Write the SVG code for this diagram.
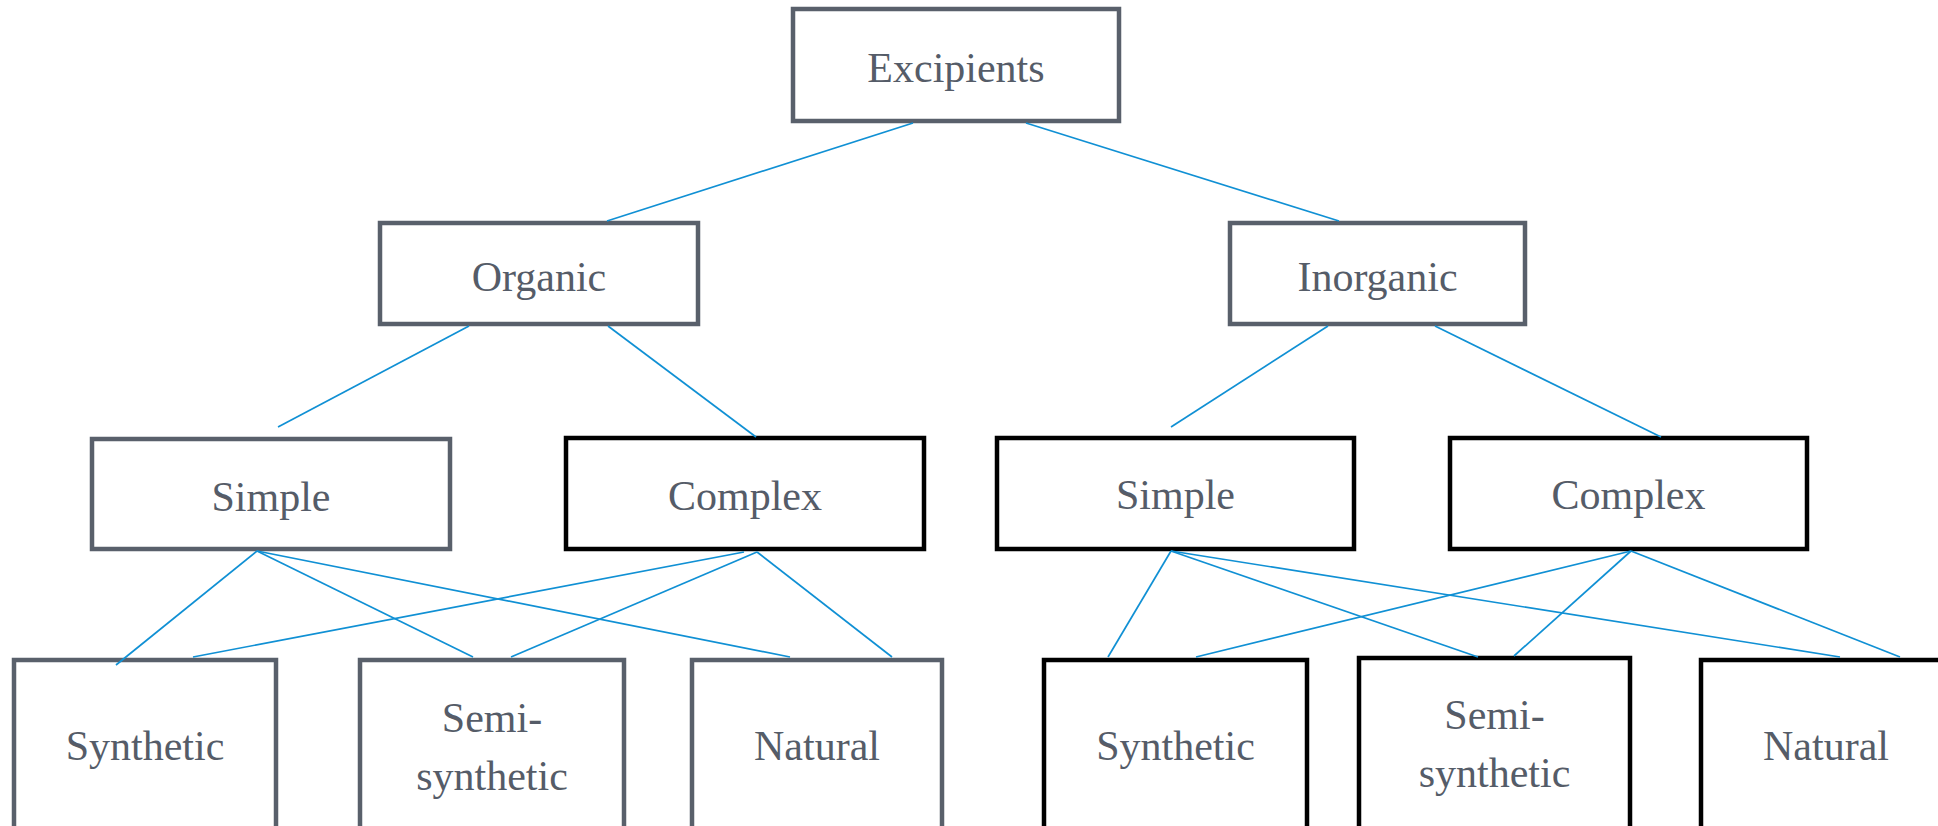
<svg xmlns="http://www.w3.org/2000/svg" width="1938" height="826" viewBox="0 0 1938 826">
<style>
.g{fill:#fff;stroke:#59606b;stroke-width:4.5}
.k{fill:#fff;stroke:#000;stroke-width:4.5}
text{font-family:"Liberation Serif","Times New Roman",serif;font-size:42px;fill:#555c68;text-anchor:middle}
.c line{stroke:#1090d4;stroke-width:1.7}
</style>
<rect width="1938" height="826" fill="#fff"/>
<g id="n-excipients"><rect class="g" x="793" y="9" width="326" height="112"/><text x="956" y="82">Excipients</text></g>
<g id="n-organic"><rect class="g" x="380" y="223" width="318" height="101"/><text x="539" y="291">Organic</text></g>
<g id="n-inorganic"><rect class="g" x="1230" y="223" width="295" height="101"/><text x="1377.5" y="291">Inorganic</text></g>
<g id="n-simple-l"><rect class="g" x="92" y="439" width="358" height="110"/><text x="271" y="511">Simple</text></g>
<g id="n-complex-l"><rect class="k" x="566" y="438" width="358" height="111"/><text x="745" y="510">Complex</text></g>
<g id="n-simple-r"><rect class="k" x="997" y="438" width="357" height="111"/><text x="1175.5" y="509">Simple</text></g>
<g id="n-complex-r"><rect class="k" x="1450" y="438" width="357" height="111"/><text x="1628.5" y="509">Complex</text></g>
<g id="n-synthetic-l"><rect class="g" x="14" y="660" width="262" height="200"/><text x="145" y="760">Synthetic</text></g>
<g id="n-semi-l"><rect class="g" x="360" y="660" width="264" height="200"/><text x="492" y="732">Semi-</text><text x="492" y="790">synthetic</text></g>
<g id="n-natural-l"><rect class="g" x="692" y="660" width="250" height="200"/><text x="817" y="760">Natural</text></g>
<g id="n-synthetic-r"><rect class="k" x="1044" y="660" width="263" height="200"/><text x="1175.5" y="760">Synthetic</text></g>
<g id="n-semi-r"><rect class="k" x="1359" y="658" width="271" height="200"/><text x="1494.5" y="729">Semi-</text><text x="1494.5" y="787">synthetic</text></g>
<g id="n-natural-r"><rect class="k" x="1701" y="660" width="251" height="200"/><text x="1826" y="760">Natural</text></g>
<g id="connectors" class="c">
<line x1="913" y1="123" x2="607" y2="221"/>
<line x1="1026" y1="123" x2="1339" y2="221"/>
<line x1="469" y1="326" x2="278" y2="427"/>
<line x1="608" y1="326" x2="756" y2="437"/>
<line x1="1328" y1="326" x2="1171" y2="427"/>
<line x1="1435" y1="326" x2="1661" y2="437"/>
<line x1="257" y1="551" x2="116" y2="665"/>
<line x1="257" y1="551" x2="473" y2="657"/>
<line x1="257" y1="551" x2="790" y2="657"/>
<line x1="744" y1="552" x2="193" y2="657"/>
<line x1="757" y1="552" x2="511" y2="657"/>
<line x1="757" y1="552" x2="892" y2="657"/>
<line x1="1171" y1="551" x2="1108" y2="657"/>
<line x1="1171" y1="551" x2="1478" y2="657"/>
<line x1="1171" y1="551" x2="1840" y2="657"/>
<line x1="1631" y1="551" x2="1196" y2="657"/>
<line x1="1631" y1="551" x2="1514" y2="656"/>
<line x1="1631" y1="551" x2="1900" y2="657"/>
</g>
</svg>
